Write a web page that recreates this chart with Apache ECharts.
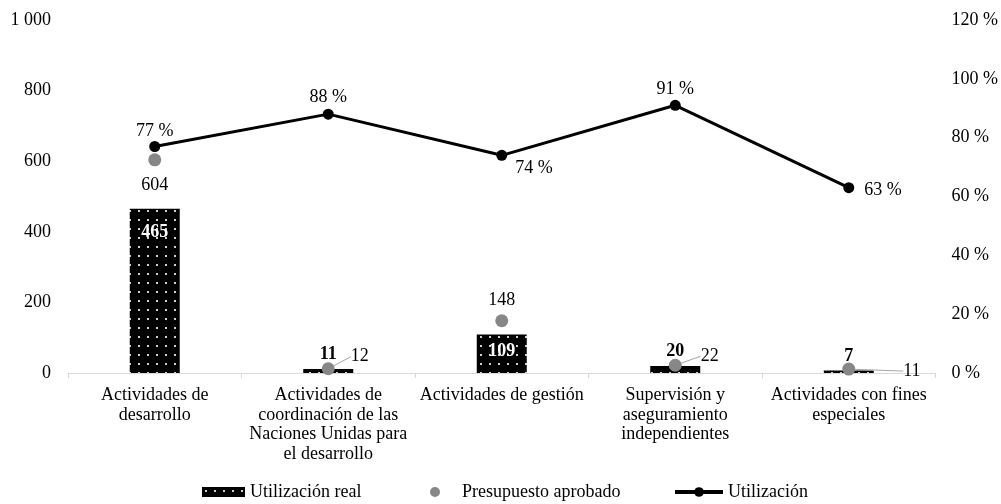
<!DOCTYPE html>
<html>
<head>
<meta charset="utf-8">
<script src="https://cdn.jsdelivr.net/npm/echarts@6/dist/echarts.min.js"></script>
<style>
html, body { margin: 0; padding: 0; background: #fff; }
#chart { width: 1001px; height: 504px; }
</style>
</head>
<body>
<div id="chart"></div>
<script>
// datos
var categorias = [
  'Actividades de\ndesarrollo',
  'Actividades de\ncoordinación de las\nNaciones Unidas para\nel desarrollo',
  'Actividades de gestión',
  'Supervisión y\naseguramiento\nindependientes',
  'Actividades con fines\nespeciales'
]
var utilizacionReal = [465, 11, 109, 20, 7]
var presupuestoAprobado = [604, 12, 148, 22, 11]
var utilizacionPct = [77, 88, 74, 91, 63]

// patrón de puntos para las barras
function patron () {
  var c = document.createElement('canvas')
  c.width = 9
  c.height = 9
  var ctx = c.getContext('2d')
  ctx.fillStyle = '#000'
  ctx.fillRect(0, 0, 9, 9)
  ctx.fillStyle = '#d0d0d0'
  ctx.fillRect(3, 3, 2, 2)
  return c
}

var fuente = 'Liberation Serif'
var fs = 18
var gris = '#878787'
var chart = echarts.init(document.getElementById('chart'))

// etiquetas de las barras: dentro si la barra es alta
var distBarra = [14, 6, 8, 6, 5]
var etqBarra = utilizacionReal.map(function (v, i) {
  var dentro = v > 50
  return {
    value: v,
    label: {
      position: dentro ? 'insideTop' : 'top',
      color: dentro ? '#fff' : '#000',
      distance: distBarra[i]
    }
  }
})

// presupuesto: posición de cada etiqueta
var posPresu = ['bottom', 'right', 'top', 'right', 'right']
var distPresu = [10, 8, 5, 8, 8]
var desplPresu = [null, [8, -12], null, [11, -9], [40, 2]]
var etqPresu = presupuestoAprobado.map(function (v, i) {
  return {
    value: v,
    label: { position: posPresu[i], distance: distPresu[i] },
    labelLine: { show: !!desplPresu[i] }
  }
})

var posPct = ['top', 'top', 'right', 'top', 'right']
var distPct = [1, 2, 8, 2, 10]
var desplPct = [null, null, [0, 13], null, [0, 3]]
var etqPct = utilizacionPct.map(function (v, i) {
  return { value: v, label: { position: posPct[i], distance: distPct[i] } }
})

var leyTexto = { fontFamily: fuente, fontSize: fs, color: '#000' }

chart.setOption({
  animation: false,
  textStyle: { fontFamily: fuente },
  grid: { left: 68, right: 64, top: 20, bottom: 131 },
  legend: [
    {
      left: 202, top: 483, padding: 0, itemWidth: 43, itemHeight: 10, itemGap: 0,
      textStyle: leyTexto, data: [{ name: 'Utilización real', icon: 'rect' }]
    },
    {
      left: 430, top: 483, padding: 0, itemWidth: 10, itemHeight: 10, itemGap: 0,
      textStyle: Object.assign({ padding: [0, 0, 0, 17] }, leyTexto),
      data: [{ name: 'Presupuesto aprobado', icon: 'circle' }]
    },
    {
      left: 673, top: 483, padding: 0, itemWidth: 48, itemHeight: 12, itemGap: 0,
      textStyle: leyTexto, lineStyle: { width: 4 },
      data: [{ name: 'Utilización' }]
    }
  ],
  xAxis: {
    type: 'category',
    data: categorias,
    axisLine: { lineStyle: { color: '#d9d9d9' } },
    axisTick: { show: true, length: 5, lineStyle: { color: '#d9d9d9' } },
    axisLabel: { color: '#000', fontSize: fs, lineHeight: 19.5, margin: 13, interval: 0 }
  },
  yAxis: [
    {
      type: 'value', min: 0, max: 1000, interval: 200,
      splitLine: { show: false },
      axisLabel: {
        color: '#000', fontSize: fs, margin: 17,
        formatter: function (v) { return v >= 1000 ? '1 000' : String(v) }
      }
    },
    {
      type: 'value', min: 0, max: 120, interval: 20,
      splitLine: { show: false },
      axisLabel: { color: '#000', fontSize: fs, margin: 16, formatter: '{value} %' }
    }
  ],
  series: [
    {
      name: 'Utilización real',
      type: 'bar',
      barWidth: 50,
      itemStyle: { color: { image: patron(), repeat: 'repeat' } },
      label: { show: true, fontFamily: fuente, fontSize: fs, fontWeight: 'bold' },
      data: etqBarra
    },
    {
      name: 'Presupuesto aprobado',
      type: 'scatter',
      symbolSize: 13,
      itemStyle: { color: gris, opacity: 1 },
      label: { show: true, color: '#000', opacity: 1, fontFamily: fuente, fontSize: fs },
      labelLine: { show: false, lineStyle: { color: '#a6a6a6', width: 1 } },
      labelLayout: function (p) {
        var d = desplPresu[p.dataIndex]
        return d ? { dx: d[0], dy: d[1] } : {}
      },
      z: 3,
      data: etqPresu
    },
    {
      name: 'Utilización',
      type: 'line',
      yAxisIndex: 1,
      symbol: 'circle',
      symbolSize: 11,
      lineStyle: { color: '#000', width: 3 },
      itemStyle: { color: '#000' },
      label: { show: true, color: '#000', fontFamily: fuente, fontSize: fs, formatter: '{c} %' },
      labelLayout: function (p) {
        var d = desplPct[p.dataIndex]
        return d ? { dx: d[0], dy: d[1] } : {}
      },
      z: 4,
      data: etqPct
    }
  ]
})
</script>
</body>
</html>
